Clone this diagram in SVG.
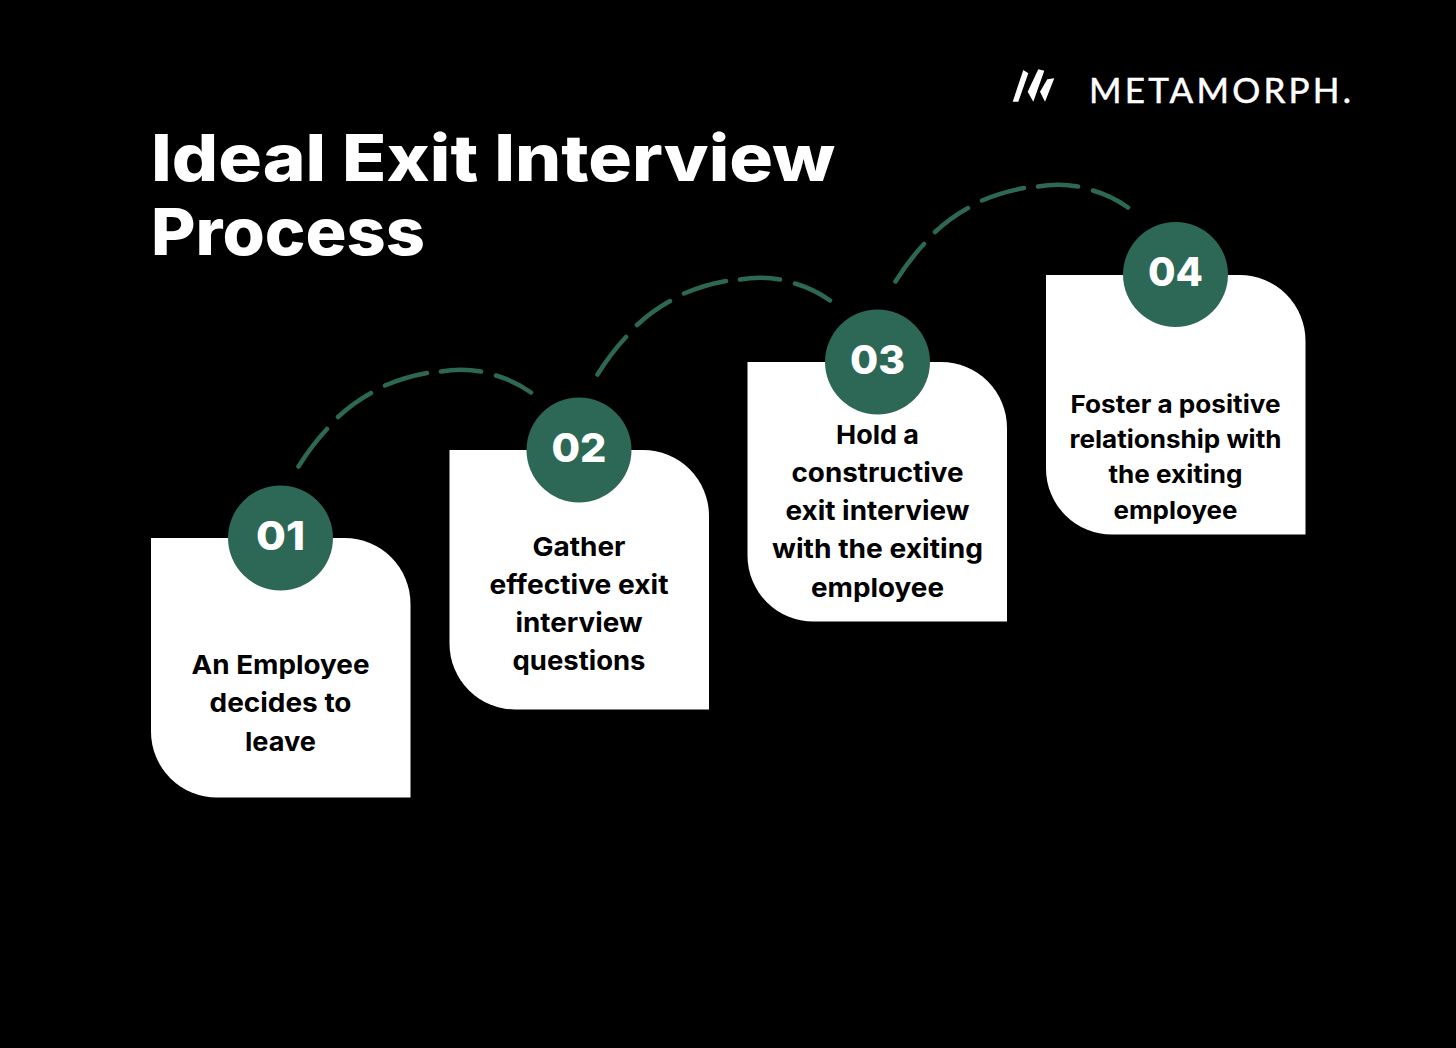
<svg xmlns="http://www.w3.org/2000/svg" width="1456" height="1048" viewBox="0 0 1456 1048">
<style>
text{font-family:"Inter","Liberation Sans",sans-serif;font-weight:700;text-anchor:middle}
.title{font-size:64.500px;fill:#fff;text-anchor:start;font-weight:800}
.body{font-size:26px;fill:#000}
.small{font-size:24.500px}
.num{font-size:40px;fill:#fff;font-weight:800}
.logo{font-family:Lato,sans-serif;font-weight:400;font-size:35px;text-anchor:start;stroke:#fff;stroke-width:.5}
.card{fill:#fff}
.dot{fill:#2d6857}
.dash{fill:none;stroke:#2d6857;stroke-width:4.500;stroke-linecap:round}
</style>
<defs>
<path id="arc" d="M298.500 466.500Q312 445 327 429M338 417Q353 403 371 393M385 385.500Q405 377 427 373M441 371.500Q461 368 481 371.500M496 375.500Q515 381 531 392.500"/>
<path id="cardShape" d="M0 0H193.500A66 66 0 0 1 259.500 66V259.500H66A66 66 0 0 1 0 193.500Z"/>
</defs>
<rect width="1456" height="1048" fill="#000"/>
<g id="logo" fill="#fff">
<polygon points="1023.300,70 1028.300,73.300 1018.300,101.700 1012.700,101.700"/>
<polygon points="1038.300,69.300 1044.300,70.700 1033.300,101.700 1027.700,91.700"/>
<polygon points="1047.300,79.300 1054.300,78.300 1045,101.700 1040,91.700"/>
<text class="logo" x="1089" y="103" textLength="262" lengthAdjust="spacing">METAMORPH.</text>
</g>
<g id="title">
<text class="title" x="151" y="180.500" textLength="684" lengthAdjust="spacingAndGlyphs">Ideal Exit Interview</text>
<text class="title" x="151" y="254.500" textLength="274" lengthAdjust="spacingAndGlyphs">Process</text>
</g>
<g id="connectors" class="dash">
<use href="#arc"/>
<use href="#arc" x="299" y="-92"/>
<use href="#arc" x="597" y="-185"/>
</g>
<g id="step1">
<use href="#cardShape" class="card" x="151" y="538"/>
<circle class="dot" cx="280.500" cy="538" r="52.500"/>
<text class="num" x="280.500" y="549.500" textLength="49" lengthAdjust="spacingAndGlyphs">01</text>
<text class="body" x="280.500" y="674" textLength="178" lengthAdjust="spacingAndGlyphs">An Employee</text>
<text class="body" x="280.500" y="712" textLength="142" lengthAdjust="spacingAndGlyphs">decides to</text>
<text class="body" x="280.500" y="751" textLength="71" lengthAdjust="spacingAndGlyphs">leave</text>
</g>
<g id="step2">
<use href="#cardShape" class="card" x="449.500" y="450"/>
<circle class="dot" cx="579" cy="450" r="52.500"/>
<text class="num" x="579" y="461.500" textLength="55" lengthAdjust="spacingAndGlyphs">02</text>
<text class="body" x="579" y="556" textLength="93" lengthAdjust="spacingAndGlyphs">Gather</text>
<text class="body" x="579" y="594" textLength="179" lengthAdjust="spacingAndGlyphs">effective exit</text>
<text class="body" x="579" y="632" textLength="127" lengthAdjust="spacingAndGlyphs">interview</text>
<text class="body" x="579" y="670" textLength="133" lengthAdjust="spacingAndGlyphs">questions</text>
</g>
<g id="step3">
<use href="#cardShape" class="card" x="747.500" y="362"/>
<circle class="dot" cx="877.500" cy="362" r="52.500"/>
<text class="num" x="877.500" y="373.500" textLength="55" lengthAdjust="spacingAndGlyphs">03</text>
<text class="body" x="877.500" y="444" textLength="83" lengthAdjust="spacingAndGlyphs">Hold a</text>
<text class="body" x="877.500" y="482" textLength="172" lengthAdjust="spacingAndGlyphs">constructive</text>
<text class="body" x="877.500" y="520" textLength="184" lengthAdjust="spacingAndGlyphs">exit interview</text>
<text class="body" x="877.500" y="558" textLength="211" lengthAdjust="spacingAndGlyphs">with the exiting</text>
<text class="body" x="877.500" y="597" textLength="133" lengthAdjust="spacingAndGlyphs">employee</text>
</g>
<g id="step4">
<use href="#cardShape" class="card" x="1046" y="275"/>
<circle class="dot" cx="1175.500" cy="274.500" r="52.500"/>
<text class="num" x="1175.500" y="285.500" textLength="55" lengthAdjust="spacingAndGlyphs">04</text>
<text class="body small" x="1175.500" y="412.500" textLength="210" lengthAdjust="spacingAndGlyphs">Foster a positive</text>
<text class="body small" x="1175.500" y="447.500" textLength="212" lengthAdjust="spacingAndGlyphs">relationship with</text>
<text class="body small" x="1175.500" y="482.500" textLength="134" lengthAdjust="spacingAndGlyphs">the exiting</text>
<text class="body small" x="1175.500" y="518.500" textLength="124" lengthAdjust="spacingAndGlyphs">employee</text>
</g>
</svg>
